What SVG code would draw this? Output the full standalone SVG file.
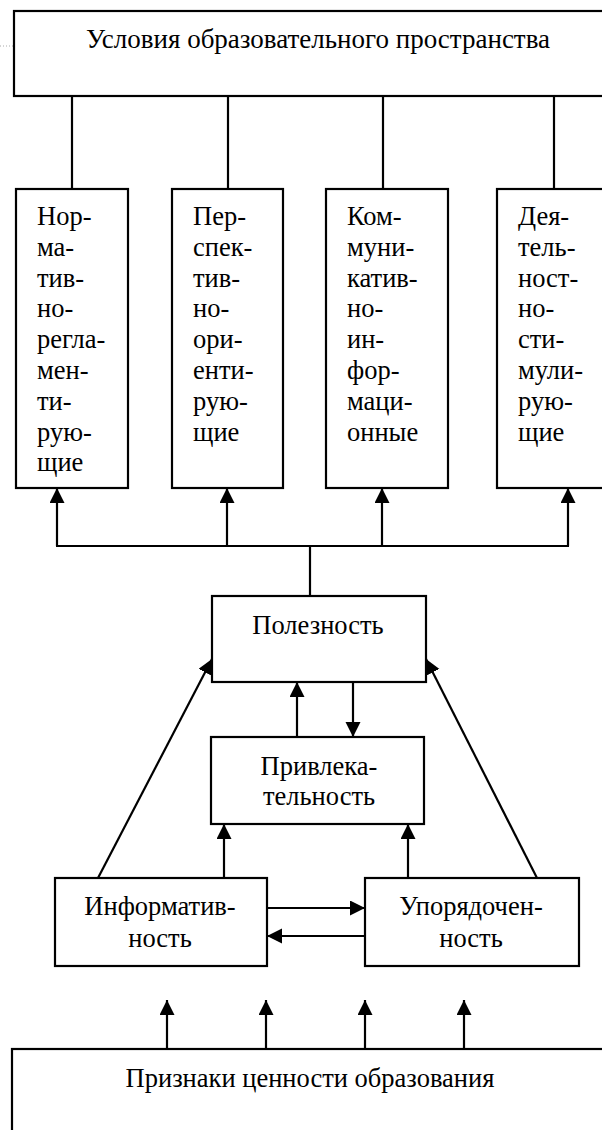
<svg xmlns="http://www.w3.org/2000/svg" width="602" height="1130" viewBox="0 0 602 1130">
<style>
.box{fill:#fff;stroke:#000;stroke-width:2.2}
.ln{fill:none;stroke:#000;stroke-width:2.2}
.ar{fill:none;stroke:#000;stroke-width:2.2;marker-end:url(#ah)}
.t{font-family:'Liberation Serif',serif;font-size:26.5px;fill:#000}
.c{text-anchor:middle}
</style>
<defs>
<marker id="ah" markerUnits="userSpaceOnUse" markerWidth="16" markerHeight="16" refX="15" refY="7.5" orient="auto">
<path d="M0,0 L15,7.5 L0,15 z" fill="#000"/>
</marker>
</defs>
<rect width="602" height="1130" fill="#fff"/>
<line x1="0" y1="46" x2="84" y2="46" stroke="#aaa" stroke-width="1" stroke-dasharray="1 2"/>
<g id="top">
<rect class="box" x="14" y="11" width="600" height="85"/>
<text class="t c" style="font-family:'Liberation Serif',serif;font-size:27px" x="318" y="48">Условия образовательного пространства</text>
</g>
<g id="b1">
<rect class="box" x="16" y="189" width="112" height="299"/>
<text class="t" style="font-family:'Liberation Serif',serif" x="37" y="225">Нор-<tspan x="37" dy="30.8">ма-</tspan><tspan x="37" dy="30.8">тив-</tspan><tspan x="37" dy="30.8">но-</tspan><tspan x="37" dy="30.8">регла-</tspan><tspan x="37" dy="30.8">мен-</tspan><tspan x="37" dy="30.8">ти-</tspan><tspan x="37" dy="30.8">рую-</tspan><tspan x="37" dy="30.8">щие</tspan></text>
</g>
<g id="b2">
<rect class="box" x="172" y="189" width="111" height="299"/>
<text class="t" style="font-family:'Liberation Serif',serif" x="193" y="225">Пер-<tspan x="193" dy="30.8">спек-</tspan><tspan x="193" dy="30.8">тив-</tspan><tspan x="193" dy="30.8">но-</tspan><tspan x="193" dy="30.8">ори-</tspan><tspan x="193" dy="30.8">енти-</tspan><tspan x="193" dy="30.8">рую-</tspan><tspan x="193" dy="30.8">щие</tspan></text>
</g>
<g id="b3">
<rect class="box" x="326" y="189" width="122" height="299"/>
<text class="t" style="font-family:'Liberation Serif',serif" x="347" y="225">Ком-<tspan x="347" dy="30.8">муни-</tspan><tspan x="347" dy="30.8">катив-</tspan><tspan x="347" dy="30.8">но-</tspan><tspan x="347" dy="30.8">ин-</tspan><tspan x="347" dy="30.8">фор-</tspan><tspan x="347" dy="30.8">маци-</tspan><tspan x="347" dy="30.8">онные</tspan></text>
</g>
<g id="b4">
<rect class="box" x="497" y="189" width="200" height="299"/>
<text class="t" style="font-family:'Liberation Serif',serif" x="518" y="225">Дея-<tspan x="518" dy="30.8">тель-</tspan><tspan x="518" dy="30.8">ност-</tspan><tspan x="518" dy="30.8">но-</tspan><tspan x="518" dy="30.8">сти-</tspan><tspan x="518" dy="30.8">мули-</tspan><tspan x="518" dy="30.8">рую-</tspan><tspan x="518" dy="30.8">щие</tspan></text>
</g>
<g id="pol">
<rect class="box" x="212" y="596" width="214" height="86"/>
<text class="t c" style="font-family:'Liberation Serif',serif" x="318" y="634">Полезность</text>
</g>
<g id="priv">
<rect class="box" x="211" y="737" width="213" height="87"/>
<text class="t c" style="font-family:'Liberation Serif',serif" x="319" y="775">Привлека-<tspan x="319" dy="30">тельность</tspan></text>
</g>
<g id="inf">
<rect class="box" x="55" y="878" width="212" height="88"/>
<text class="t c" style="font-family:'Liberation Serif',serif" x="160" y="915">Информатив-<tspan x="160" dy="32">ность</tspan></text>
</g>
<g id="upo">
<rect class="box" x="365" y="878" width="214" height="88"/>
<text class="t c" style="font-family:'Liberation Serif',serif" x="471" y="915">Упорядочен-<tspan x="471" dy="32">ность</tspan></text>
</g>
<g id="bottom">
<rect class="box" x="12" y="1049" width="620" height="100"/>
<text class="t c" style="font-family:'Liberation Serif',serif" x="310" y="1087">Признаки ценности образования</text>
</g>
<g id="connectors">
<line class="ln" x1="72" y1="96" x2="72" y2="189"/>
<line class="ln" x1="228" y1="96" x2="228" y2="189"/>
<line class="ln" x1="383" y1="96" x2="383" y2="189"/>
<line class="ln" x1="554" y1="96" x2="554" y2="189"/>
<line class="ln" x1="56" y1="546" x2="569" y2="546"/>
<line class="ar" x1="57" y1="546" x2="57" y2="488"/>
<line class="ar" x1="227" y1="546" x2="227" y2="488"/>
<line class="ar" x1="382" y1="546" x2="382" y2="488"/>
<line class="ar" x1="568" y1="546" x2="568" y2="488"/>
<line class="ln" x1="310" y1="546" x2="310" y2="596"/>
<line class="ar" x1="98" y1="878" x2="212" y2="659"/>
<line class="ar" x1="537" y1="878" x2="426" y2="659"/>
<line class="ar" x1="297" y1="737" x2="297" y2="682"/>
<line class="ar" x1="353" y1="682" x2="353" y2="737"/>
<line class="ar" x1="224" y1="878" x2="224" y2="824"/>
<line class="ar" x1="408" y1="878" x2="408" y2="824"/>
<line class="ar" x1="267" y1="908" x2="365" y2="908"/>
<line class="ar" x1="365" y1="936" x2="267" y2="936"/>
<line class="ar" x1="167" y1="1049" x2="167" y2="1000"/>
<line class="ar" x1="266" y1="1049" x2="266" y2="1000"/>
<line class="ar" x1="365" y1="1049" x2="365" y2="1000"/>
<line class="ar" x1="464" y1="1049" x2="464" y2="1000"/>
</g>
</svg>
